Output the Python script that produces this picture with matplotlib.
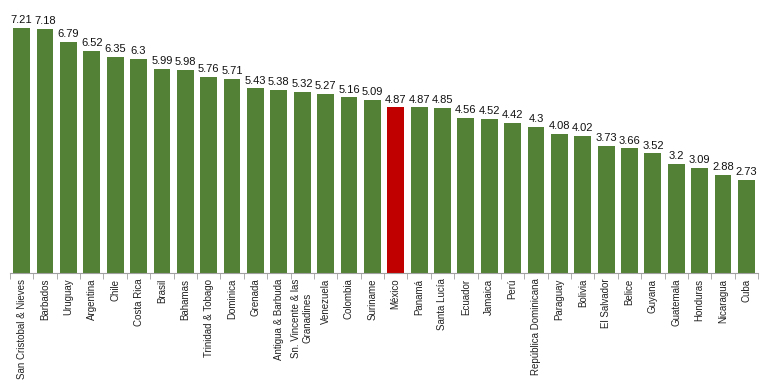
import numpy as np
import matplotlib.pyplot as plt

countries = ["San Cristobal & Nieves", "Barbados", "Uruguay", "Argentina", "Chile",
             "Costa Rica", "Brasil", "Bahamas", "Trinidad & Tobago", "Dominica",
             "Grenada", "Antigua & Barbuda", "Sn. Vincente & las\nGranadines",
             "Venezuela", "Colombia", "Suriname", "México", "Panamá", "Santa Lucía",
             "Ecuador", "Jamaica", "Perú", "República Dominicana", "Paraguay",
             "Bolivia", "El Salvador", "Belice", "Guyana", "Guatemala", "Honduras",
             "Nicaragua", "Cuba"]
values = [7.21, 7.18, 6.79, 6.52, 6.35, 6.3, 5.99, 5.98, 5.76, 5.71, 5.43, 5.38,
          5.32, 5.27, 5.16, 5.09, 4.87, 4.87, 4.85, 4.56, 4.52, 4.42, 4.3, 4.08,
          4.02, 3.73, 3.66, 3.52, 3.2, 3.09, 2.88, 2.73]
highlight = "México"

plt.rcParams['font.family'] = ['Liberation Sans', 'DejaVu Sans']

fig = plt.figure(figsize=(7.65, 3.9), dpi=100)
ax = fig.add_axes([0.013, 0.3, 0.978, 0.698])

x = np.arange(len(countries))
colors = ['#c00000' if c == highlight else '#538135' for c in countries]
bars = ax.bar(x, values, width=0.72, color=colors)

# value labels above each bar
for xi, v in zip(x, values):
    ax.text(xi, v + 0.08, f"{v:g}", ha='center', va='bottom', fontsize=8,
            color='#111111')

ax.set_xlim(-0.5, len(countries) - 0.5)
ax.set_ylim(0, 8)
ax.set_xticks(x)
ax.set_xticklabels(countries, rotation=90, fontsize=7, va='top', ha='center',
                   color='#222222')
ax.tick_params(axis='x', which='major', length=0, pad=4)
ax.set_xticks(np.arange(-0.5, len(countries)), minor=True)
ax.tick_params(axis='x', which='minor', length=4, color='#a0a0a0')
ax.set_yticks([])
for s in ['top', 'right', 'left']:
    ax.spines[s].set_visible(False)
ax.spines['bottom'].set_color('#a0a0a0')

fig.savefig('out.png', dpi=100)
